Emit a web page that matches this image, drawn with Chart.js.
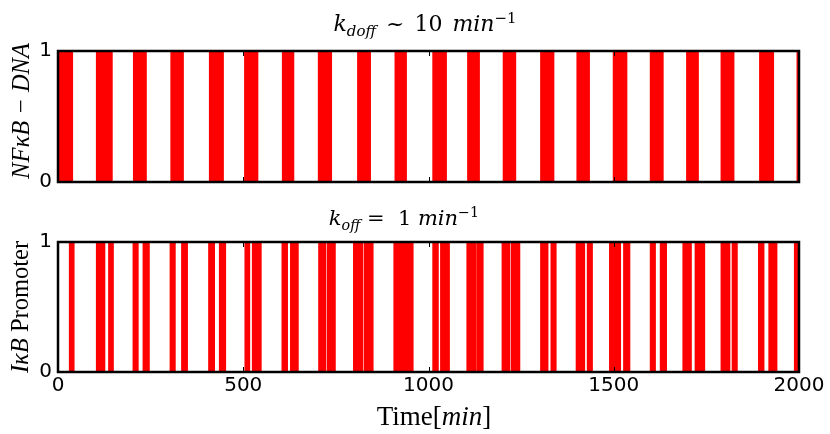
<!DOCTYPE html>
<html><head><meta charset="utf-8">
<script src="https://cdn.jsdelivr.net/npm/chart.js@4.4.1/dist/chart.umd.min.js"></script>
<style>
html,body{margin:0;padding:0;background:#fff;}
#wrap{position:relative;width:830px;height:434px;overflow:hidden;background:#fff;}
.c{position:absolute;left:0;width:830px;}
.t{position:absolute;white-space:nowrap;color:#000;line-height:1;}
.title{font-family:"DejaVu Serif",serif;font-size:21px;transform:translateX(-50%);}
.title sub,.title sup{font-size:0.68em;line-height:0;}
.title sub{vertical-align:-0.35em;}
.title sup{vertical-align:0.55em;}
.lab{font-family:"Liberation Serif",serif;font-size:24.5px;transform:translate(-50%,-50%) rotate(-90deg);}
.xlab{font-family:"Liberation Serif",serif;font-size:27px;transform:translate(-50%,-50%);}
</style>
</head><body>
<div id="wrap">
  <div class="c" style="top:0;height:200px;"><canvas id="top" width="830" height="200"></canvas></div>
  <div class="c" style="top:200px;height:234px;"><canvas id="bot" width="830" height="234"></canvas></div>
  <div class="t title" style="left:425px;top:13px;font-size:22px;word-spacing:3px;"><i>k</i><sub><i>doff</i></sub> ~ 10 <i>min</i><sup>−1</sup></div>
  <div class="t title" style="left:404px;top:208px;"><i>k</i><sub><i>off</i></sub> =&nbsp; 1 <i>min</i><sup>−1</sup></div>
  <div class="t lab" style="left:21px;top:111px;"><i>NFκB − DNA</i></div>
  <div class="t lab" style="left:20px;top:307px;"><i>IκB</i> Promoter</div>
  <div class="t xlab" style="left:434px;top:416px;">Time<span>[</span><i>min</i><span>]</span></div>
</div>
<script>
// ---- data (minutes) ----
const xTicks = [0, 500, 1000, 1500, 2000];
const yTicks = [0, 1];
// NFkB-DNA bound intervals (state = 1)
const nfkbOnStart = [0, 105, 205, 306, 410, 505, 607, 704, 810, 911, 1013, 1107, 1203, 1304, 1402, 1500, 1600, 1617, 1698, 1791, 1895, 1996];
const nfkbOnEnd   = [38, 145, 237, 337, 445, 538, 635, 737, 842, 939, 1047, 1136, 1234, 1337, 1433, 1534, 1615, 1632, 1727, 1823, 1930, 2000];
// IkB promoter active intervals (state = 1)
const ikbOnStart = [32, 105, 138, 204, 231, 304, 335, 408, 437, 506, 526, 606, 629, 705, 728, 799, 812, 828, 842, 908, 921, 1013, 1034, 1105, 1133, 1200, 1225, 1304, 1332, 1400, 1430, 1490, 1528, 1600, 1627, 1688, 1721, 1791, 1821, 1892, 1920, 1989];
const ikbOnEnd   = [42, 125, 148, 215, 245, 315, 348, 421, 451, 516, 547, 618, 647, 721, 747, 810, 821, 840, 849, 918, 957, 1025, 1055, 1127, 1146, 1218, 1245, 1321, 1343, 1420, 1441, 1517, 1542, 1611, 1641, 1708, 1744, 1812, 1832, 1904, 1939, 2000];

function stepPoints(starts, ends) {
  const pts = [{x: 0, y: 0}];
  for (let i = 0; i < starts.length; i++) {
    pts.push({x: starts[i], y: 1});
    pts.push({x: ends[i], y: 0});
  }
  pts.push({x: 2000, y: 0});
  return pts;
}

const framePlugin = {
  id: 'frame',
  afterDatasetsDraw(chart) {
    const {ctx, chartArea: a, scales: {x}} = chart;
    ctx.save();
    ctx.strokeStyle = '#000';
    ctx.lineWidth = 1;
    for (const v of xTicks.slice(1, -1)) {
      const px = Math.round(x.getPixelForValue(v)) + 0.5;
      ctx.beginPath();
      ctx.moveTo(px, a.top); ctx.lineTo(px, a.top + 5);
      ctx.moveTo(px, a.bottom); ctx.lineTo(px, a.bottom - 5);
      ctx.stroke();
    }
    ctx.lineWidth = 2.5;
    ctx.strokeRect(a.left, a.top, a.right - a.left, a.bottom - a.top);
    ctx.restore();
  }
};

function makeChart(id, starts, ends, showX, pad, xh) {
  return new Chart(document.getElementById(id), {
    type: 'line',
    data: {
      datasets: [{
        data: stepPoints(starts, ends),
        stepped: true,
        fill: 'origin',
        backgroundColor: '#ff0000',
        borderColor: '#ff0000',
        borderWidth: 2,
        pointRadius: 0,
        tension: 0
      }]
    },
    options: {
      responsive: false,
      animation: false,
      devicePixelRatio: 1,
      layout: {padding: pad},
      plugins: {legend: {display: false}, tooltip: {enabled: false}},
      scales: {
        x: {
          type: 'linear', min: 0, max: 2000,
          afterBuildTicks: (s) => { s.ticks = xTicks.map(v => ({value: v})); },
          afterFit: (s) => { s.height = xh; },
          grid: {display: false, drawTicks: false},
          border: {display: false},
          ticks: {display: showX, padding: 2, color: '#000', autoSkip: false, maxRotation: 0,
                  font: {family: 'DejaVu Sans', size: 20}, callback: (v) => String(v)}
        },
        y: {
          min: 0, max: 1,
          afterBuildTicks: (s) => { s.ticks = yTicks.map(v => ({value: v})); },
          afterFit: (s) => { s.width = 30; },
          grid: {display: false, drawTicks: false},
          border: {display: false},
          ticks: {padding: 6, color: '#000', autoSkip: false,
                  font: {family: 'DejaVu Sans', size: 20}, callback: (v) => String(v)}
        }
      }
    },
    plugins: [framePlugin]
  });
}

makeChart('top', nfkbOnStart, nfkbOnEnd, false, {top: 51, left: 28, right: 31, bottom: 18}, 0);
makeChart('bot', ikbOnStart, ikbOnEnd, true, {top: 42, left: 28, right: 31, bottom: 32}, 30);
</script>
</body></html>
